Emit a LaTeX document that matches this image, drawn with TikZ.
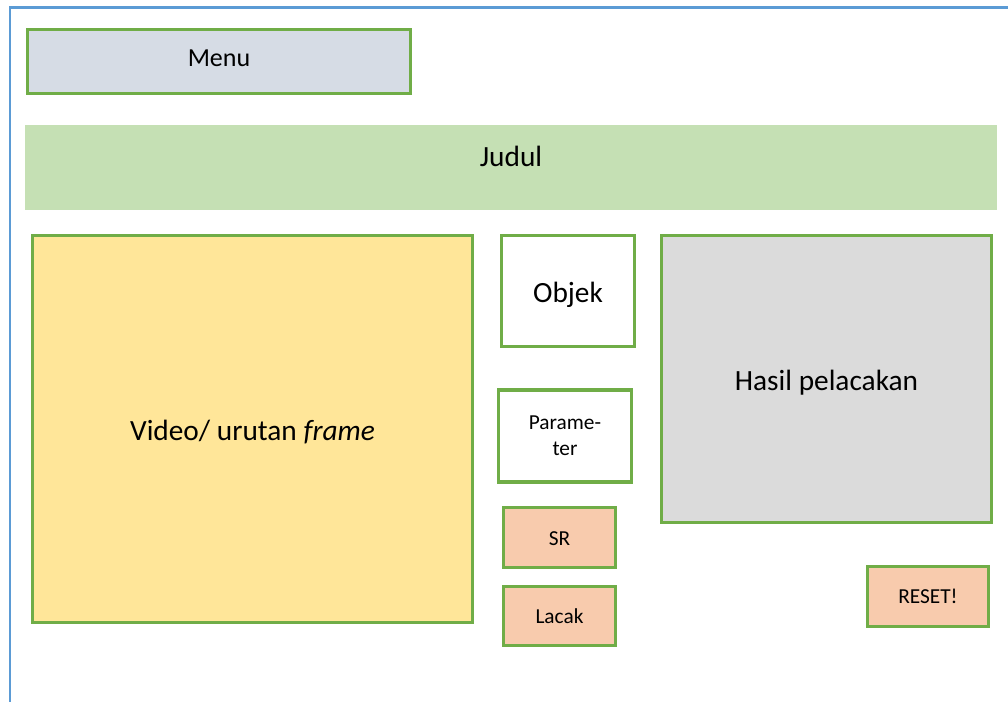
\documentclass[tikz,border=0pt]{standalone}
\usepackage{fontspec}
\setmainfont{Carlito}
\definecolor{frameblue}{HTML}{5B9BD5}
\definecolor{boxgreen}{HTML}{70AD47}
\definecolor{menufill}{HTML}{D6DCE5}
\definecolor{titlefill}{HTML}{C5E0B4}
\definecolor{videofill}{HTML}{FFE699}
\definecolor{resultfill}{HTML}{DBDBDB}
\definecolor{buttonfill}{HTML}{F8CBAD}
\tikzset{
  panel/.style={draw=boxgreen, line width=2.6pt, rectangle, inner sep=0pt, align=center},
  bigtext/.style={font=\fontsize{22}{26}\selectfont, text height=22pt, text depth=5pt},
  smalltext/.style={font=\fontsize{16}{19.5}\selectfont},
  button/.style={panel, fill=buttonfill, smalltext},
}
\begin{document}
\begin{tikzpicture}[x=0.75pt, y=-0.75pt]
  \useasboundingbox (0,0) rectangle (1008,702);
  \fill[white] (0,0) rectangle (1008,702);
  % page frame
  \coordinate (ftop) at (1010,7.5);
  \coordinate (fcorner) at (10,7.5);
  \coordinate (fbottom) at (10,704);
  \draw[frameblue, line width=1.9pt] (ftop) -- (fcorner) -- (fbottom);

  % header
  \node (menu) [panel, fill=menufill, minimum width=287pt, minimum height=47.75pt,
    font=\fontsize{19.5}{23}\selectfont, text depth=4.5pt] at (219,61.5) {Menu};
  \node (judul) [fill=titlefill, rectangle, inner sep=0pt, minimum width=729pt, minimum height=63.75pt] at (511,167.5) {};
  \node (judultext) [font=\fontsize{22}{26}\selectfont] at (511,156) {Judul};

  % main panels
  \node (video) [panel, fill=videofill, minimum width=329.75pt, minimum height=290pt, bigtext]
    at (252.5,429) {Video/ urutan \textit{frame}};
  \node (objek) [panel, fill=white, minimum width=99.5pt, minimum height=83pt, bigtext]
    at (568,291) {Objek};
  \node (param) [panel, fill=white, minimum width=99.5pt, minimum height=68.75pt, smalltext]
    at (565,436) {Parame-\\ter};
  \node (sr) [button, minimum width=83.75pt, minimum height=44.75pt, text height=12.5pt] at (559.5,537.5) {SR};
  \node (lacak) [button, minimum width=83.75pt, minimum height=44pt] at (559.5,616) {Lacak};
  \node (hasil) [panel, fill=resultfill, minimum width=247.25pt, minimum height=215pt, bigtext]
    at (826.5,379) {Hasil pelacakan};
  \node (reset) [button, minimum width=90.5pt, minimum height=44.75pt] at (928,596.5) {RESET!};
\end{tikzpicture}
\end{document}
